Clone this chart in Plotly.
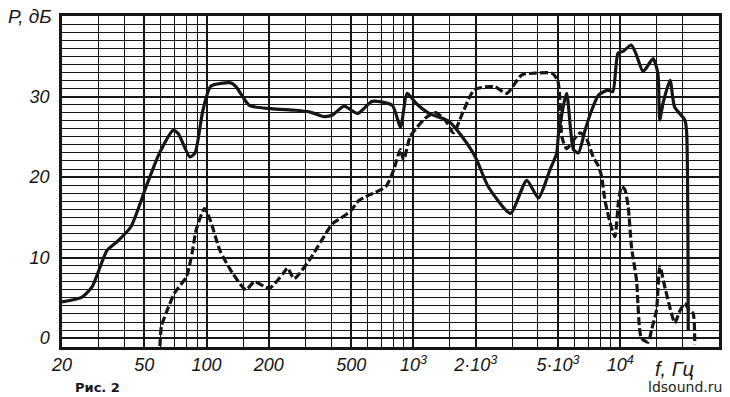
import math
import plotly.graph_objects as go

# ---- data ----
solid_f = [20, 25, 28, 33, 37, 43, 51, 59, 69, 73, 83, 88, 96, 105, 131, 139, 161, 205, 270, 314,
           371, 406, 462, 537, 632, 790, 866, 932, 1026, 1190, 1488, 1720, 1992, 2300, 2940, 3530,
           4020, 4570, 4920, 5030, 5500, 5940, 6270, 6750, 7270, 7860, 8700, 9200, 9750, 10300,
           11300, 11950, 12900, 14400, 15200, 15500, 16100, 17400, 18300, 20500, 20900, 21300]
solid_db = [4.5, 5.1, 6.4, 10.9, 12.0, 13.8, 18.8, 22.9, 25.8, 25.4, 22.5, 23.0, 28.3, 31.3, 31.7,
            31.2, 28.9, 28.5, 28.3, 28.1, 27.5, 27.7, 28.8, 27.9, 29.4, 28.9, 26.2, 30.4, 29.2, 27.9,
            26.9, 25.0, 22.5, 18.8, 15.5, 19.6, 17.4, 20.9, 22.9, 25.4, 30.4, 23.4, 23.0, 25.8, 28.3,
            30.2, 30.8, 30.6, 35.4, 35.6, 36.4, 35.2, 33.1, 34.7, 32.9, 27.1, 29.2, 32.0, 28.7, 27.1,
            25.8, 1.0]

dash_f = [59.5, 60.5, 63.7, 70, 79.8, 85, 89, 97.7, 104, 116, 134, 155, 170, 201, 234, 246, 265,
          314, 406, 446, 498, 540, 590, 734, 803, 864, 897, 964, 1140, 1280, 1430, 1560, 1750, 1960,
          2230, 2480, 2830, 3340, 3880, 4670, 4980, 5130, 5220, 5500, 5900, 6400, 6900, 7400, 7860,
          8130, 8430, 9000, 9420, 9800, 10140, 10500, 10920, 11330, 11980, 12650, 13640, 14150,
          14960, 15530, 16400, 17660, 18340, 19500, 20500, 21500, 22480, 22900]
dash_db = [-1.0, 1.5, 3.1, 5.6, 7.6, 10.5, 13.4, 16.1, 14.7, 10.9, 8.0, 6.0, 7.0, 6.2, 8.0, 8.7, 7.4,
           9.7, 14.2, 14.9, 15.8, 17.0, 17.6, 18.8, 20.9, 23.4, 22.1, 25.0, 27.3, 28.0, 27.0, 25.5,
           28.3, 30.8, 31.2, 31.2, 30.4, 32.7, 32.9, 32.9, 32.0, 28.7, 25.0, 23.5, 24.5, 25.5, 24.6,
           22.5, 21.3, 20.0, 17.1, 14.0, 12.6, 17.0, 18.8, 18.5, 16.3, 11.3, 7.2, 0.0, -0.5, 1.0,
           3.5, 8.9, 6.4, 3.1, 1.9, 3.5, 4.3, 3.5, 3.1, -0.8]

x_tick_vals = [20, 50, 100, 200, 500, 1000, 2000, 5000, 10000]
x_tick_text = ["20", "50", "100", "200", "500", "10<sup>3</sup>", "2·10<sup>3</sup>",
               "5·10<sup>3</sup>", "10<sup>4</sup>"]
x_grid_minor = [30, 40, 60, 70, 80, 90, 150, 300, 400, 600, 700, 800, 900, 1500, 3000, 4000,
                6000, 7000, 8000, 9000, 15000, 20000]
y_tick_vals = [0, 10, 20, 30]
y_tick_text = ["0", "10", "20", "30"]
y_grid_minor = [v for v in range(1, 40) if v % 10 != 0]

INK = "#161616"
tick_font = dict(family="Liberation Sans", size=18, style="italic", color=INK)

fig = go.Figure()
fig.add_trace(go.Scatter(x=solid_f, y=solid_db, mode="lines",
                         line=dict(color=INK, width=3.2, shape="spline", smoothing=0.6),
                         showlegend=False, hoverinfo="skip"))
fig.add_trace(go.Scatter(x=dash_f, y=dash_db, mode="lines",
                         line=dict(color=INK, width=3.2, dash="8px,3px", shape="spline", smoothing=0.6),
                         showlegend=False, hoverinfo="skip"))

fig.update_layout(
    width=730, height=397,
    margin=dict(l=62, r=8, t=16, b=50),
    paper_bgcolor="white", plot_bgcolor="white",
    xaxis=dict(type="log", range=[math.log10(20), math.log10(30000)],
               tickmode="array", tickvals=x_tick_vals, ticktext=x_tick_text,
               showgrid=True, gridcolor=INK, gridwidth=2,
               minor=dict(tickmode="array", tickvals=x_grid_minor, showgrid=True,
                          gridcolor=INK, gridwidth=1.4, ticks=""),
               showline=True, linecolor=INK, linewidth=2.5, mirror=True,
               ticks="", tickfont=tick_font, zeroline=False),
    yaxis=dict(range=[-1.1, 40],
               tickmode="array", tickvals=y_tick_vals, ticktext=y_tick_text,
               showgrid=True, gridcolor=INK, gridwidth=2,
               minor=dict(tickmode="array", tickvals=y_grid_minor, showgrid=True,
                          gridcolor=INK, gridwidth=1.4, ticks=""),
               showline=True, linecolor=INK, linewidth=2.5, mirror=True,
               ticks="", tickfont=tick_font, zeroline=False, ticklabelstandoff=6),
    annotations=[
        dict(text="P, дБ", xref="paper", yref="paper", x=-0.048, y=0.997,
             xanchor="center", yanchor="middle", showarrow=False,
             font=dict(family="Liberation Sans", size=19, style="italic", color=INK)),
        dict(text="f, Гц", xref="paper", yref="paper", x=0.933, y=-0.066,
             xanchor="center", yanchor="middle", showarrow=False,
             font=dict(family="Liberation Sans", size=20, style="italic", color=INK)),
        dict(text="<b>Рис. 2</b>", xref="paper", yref="paper", x=0.0545, y=-0.121,
             xanchor="center", yanchor="middle", showarrow=False,
             font=dict(family="DejaVu Sans", size=13, color=INK)),
        dict(text="ldsound.ru", xref="paper", yref="paper", x=1.0076, y=-0.121,
             xanchor="right", yanchor="middle", showarrow=False,
             font=dict(family="DejaVu Sans", size=14, color="#222")),
    ],
)

fig.write_html("out.html", config={"displayModeBar": False},
               post_script="document.body.style.margin='0';document.body.style.overflow='hidden';")
